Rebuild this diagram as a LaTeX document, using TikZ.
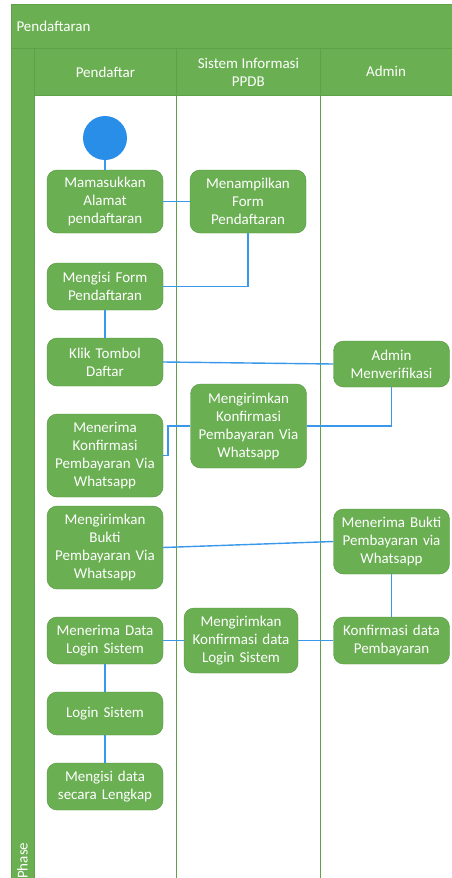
\documentclass[tikz,border=0pt]{standalone}
\usepackage{fontspec}
\setmainfont{Carlito}
\definecolor{actgreen}{RGB}{106, 175, 82}
\definecolor{actedge}{RGB}{84, 150, 64}
\definecolor{laneedge}{RGB}{96, 160, 72}
\definecolor{flowblue}{RGB}{58, 152, 234}
\definecolor{startblue}{RGB}{40, 142, 232}
\usetikzlibrary{positioning}

\begin{document}
\begin{tikzpicture}[x=1pt, y=-1pt,
  act/.style={draw=actedge, fill=actgreen, rounded corners=10pt, text=white, align=center, text width=112pt, inner xsep=2pt, inner ysep=0pt, font=\fontsize{15}{18}\selectfont},
  lanehead/.style={draw=laneedge, fill=actgreen, line width=0.8pt},
  lanebody/.style={draw=laneedge, fill=white, line width=1pt},
  flow/.style={draw=flowblue, line width=1.4pt},
  headtxt/.style={text=white, align=center, font=\fontsize{15}{18}\selectfont}
]
  \useasboundingbox (0,0) rectangle (452,878);
  \clip (0,0) rectangle (452,878);

  % pool and lanes
  \node[lanehead, minimum width=460pt, minimum height=44pt, anchor=north west, inner sep=0pt] (pool) at (11,4) {};
  \node[headtxt, anchor=west] (pooltxt) at (13,26) {Pendaftaran};
  \node[lanehead, minimum width=23pt, minimum height=840pt, anchor=north west, inner sep=0pt] (phase) at (11,48) {};
  \node[headtxt, rotate=90, anchor=west, inner sep=1pt] (phasetxt) at (22.5,880) {Phase};

  \node[lanehead, minimum width=142pt, minimum height=47pt, anchor=north west, inner sep=0pt] (hpendaftar) at (34,48) {};
  \node[lanehead, minimum width=144pt, minimum height=47pt, anchor=north west, inner sep=0pt] (hsistem) at (176,48) {};
  \node[lanehead, minimum width=150pt, minimum height=47pt, anchor=north west, inner sep=0pt] (hadmin) at (320,48) {};
  \node[headtxt] at (hpendaftar.center) {Pendaftar};
  \node[headtxt] at (hsistem.center) {Sistem Informasi\\PPDB};
  \node[headtxt] at (386,71.5) {Admin};

  \node[lanebody, minimum width=142pt, minimum height=800pt, anchor=north west, inner sep=0pt] (bpendaftar) at (34,95) {};
  \node[lanebody, minimum width=144pt, minimum height=800pt, anchor=north west, inner sep=0pt] (bsistem) at (176,95) {};
  \node[lanebody, minimum width=150pt, minimum height=800pt, anchor=north west, inner sep=0pt] (badmin) at (320,95) {};

  % activities
  \node[circle, fill=startblue, minimum size=44pt, inner sep=0pt] (start) at (105,138) {};
  \node[act, minimum height=63pt] (masuk) at (105,201.5) {Mamasukkan\\Alamat\\pendaftaran};
  \node[act, minimum height=63pt] (tampil) at (248,201.5) {Menampilkan\\Form\\Pendaftaran};
  \node[act, minimum height=47pt] (isiform) at (105,286.5) {Mengisi Form\\Pendaftaran};
  \node[act, minimum height=48pt] (klik) at (105,362) {Klik Tombol\\Daftar};
  \node[act, minimum height=46pt] (verif) at (391.5,364) {Admin\\Menverifikasi};
  \node[act, minimum height=84pt] (kirimkonf) at (248.5,426) {Mengirimkan\\Konfirmasi\\Pembayaran Via\\Whatsapp};
  \node[act, minimum height=83pt] (terimakonf) at (105,455.5) {Menerima\\Konfirmasi\\Pembayaran Via\\Whatsapp};
  \node[act, minimum height=83pt] (kirimbukti) at (105,547.5) {Mengirimkan\\Bukti\\Pembayaran Via\\Whatsapp};
  \node[act, minimum height=65pt] (terimabukti) at (391.5,541.5) {Menerima Bukti\\Pembayaran via\\Whatsapp};
  \node[act, minimum height=47pt] (konfdata) at (391.5,640.5) {Konfirmasi data\\Pembayaran};
  \node[act, minimum height=65pt, text width=110pt] (kirimlogin) at (241,640.5) {Mengirimkan\\Konfirmasi data\\Login Sistem};
  \node[act, minimum height=47pt] (terimalogin) at (105,640.5) {Menerima Data\\Login Sistem};
  \node[act, minimum height=43pt] (login) at (105,713.5) {Login Sistem};
  \node[act, minimum height=47pt] (lengkap) at (105,786.5) {Mengisi data\\secara Lengkap};

  % flows
  \draw[flow] (start) -- (masuk);
  \draw[flow] (masuk) -- (tampil);
  \draw[flow] (tampil.south) |- (isiform.east);
  \draw[flow] (isiform) -- (klik);
  \draw[flow] (klik.east) -- (verif.west);
  \draw[flow] (verif.south) |- (kirimkonf.east);
  \draw[flow] (kirimkonf.west) -- ++(-22.5,0) |- (terimakonf.east);
  \draw[flow] (kirimbukti.east) -- (terimabukti.west);
  \draw[flow] (terimabukti) -- (konfdata);
  \draw[flow] (konfdata) -- (kirimlogin);
  \draw[flow] (kirimlogin) -- (terimalogin);
  \draw[flow] (terimalogin) -- (login);
  \draw[flow] (login) -- (lengkap);
\end{tikzpicture}
\end{document}
